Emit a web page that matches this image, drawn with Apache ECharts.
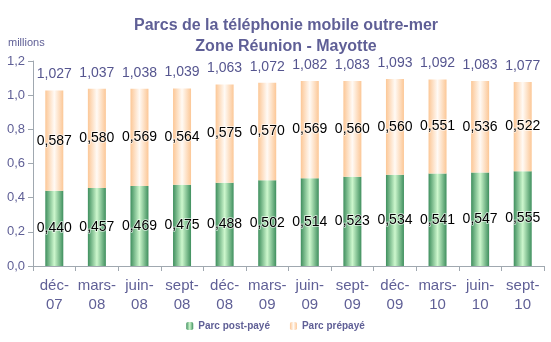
<!DOCTYPE html>
<html><head><meta charset="utf-8">
<script src="https://cdn.jsdelivr.net/npm/echarts@6/dist/echarts.min.js"></script>
<style>html,body{margin:0;padding:0;background:#fff}#c{width:551px;height:342px}</style>
</head><body><div id="c"></div>
<script>
const categories = ['déc-\n07','mars-\n08','juin-\n08','sept-\n08','déc-\n08','mars-\n09','juin-\n09','sept-\n09','déc-\n09','mars-\n10','juin-\n10','sept-\n10'];
const postPaye = [0.440,0.457,0.469,0.475,0.488,0.502,0.514,0.523,0.534,0.541,0.547,0.555];
const prePaye = [0.587,0.580,0.569,0.564,0.575,0.570,0.569,0.560,0.560,0.551,0.536,0.522];
const totals = [1.027,1.037,1.038,1.039,1.063,1.072,1.082,1.083,1.093,1.092,1.083,1.077];
const yTicks = [0,0.2,0.4,0.6,0.8,1.0,1.2];

const fmt = v => v.toFixed(3).replace('.', ',');
const txt = '#5f5f96';
const chart = echarts.init(document.getElementById('c'));
const greenGrad = new echarts.graphic.LinearGradient(0,0,1,0,[
  {offset:0,color:'#3f8f5e'},{offset:0.5,color:'#cdf7cd'},{offset:1,color:'#3f8f5e'}]);
const peachGrad = new echarts.graphic.LinearGradient(0,0,1,0,[
  {offset:0,color:'#fcc796'},{offset:0.5,color:'#fffaf5'},{offset:1,color:'#fcc796'}]);
const innerLabel = {show:true,position:'inside',color:'#000',fontSize:14,fontFamily:'Liberation Sans',
  formatter:p=>fmt(p.value),textBorderColor:'rgba(255,255,255,0.7)',textBorderWidth:1.5};
chart.setOption({
  animation:false,
  title:{text:'Parcs de la téléphonie mobile outre-mer\nZone Réunion - Mayotte',left:281,top:10,textAlign:'center',
    textStyle:{color:txt,fontSize:16,fontWeight:'bold',fontFamily:'Liberation Sans',lineHeight:21}},
  graphic:[{type:'text',left:8,top:37,style:{text:'millions',fill:txt,fontSize:11,fontFamily:'Liberation Sans'}}],
  legend:{bottom:6,left:'center',itemWidth:7,itemHeight:8,itemGap:20,
    textStyle:{color:txt,fontSize:10,fontWeight:'bold',fontFamily:'Liberation Sans'},
    data:['Parc post-payé','Parc prépayé']},
  grid:{left:33,right:7,top:61,bottom:76},
  xAxis:{type:'category',data:categories,
    axisLine:{lineStyle:{color:'#a0a8b0'}},axisTick:{show:true,length:5,lineStyle:{color:'#a0a8b0'}},
    axisLabel:{color:txt,fontSize:15,fontFamily:'Liberation Sans',lineHeight:19,margin:10,interval:0}},
  yAxis:{type:'value',min:0,max:1.2,interval:0.2,splitLine:{show:false},
    axisLine:{show:true,lineStyle:{color:'#a0a8b0'}},axisTick:{show:true,length:5,lineStyle:{color:'#a0a8b0'}},
    axisLabel:{color:txt,fontSize:13,fontFamily:'Liberation Sans',margin:8,formatter:v=>v.toFixed(1).replace('.',',')}},
  series:[
    {name:'Parc post-payé',type:'bar',stack:'a',barWidth:18,data:postPaye,itemStyle:{color:greenGrad},label:innerLabel},
    {name:'Parc prépayé',type:'bar',stack:'a',barWidth:18,data:prePaye,itemStyle:{color:peachGrad},label:innerLabel},
    {name:'total',type:'scatter',data:totals,symbolSize:2,itemStyle:{color:'rgba(255,255,255,0)',opacity:1},silent:true,z:10,
      label:{show:true,position:'top',distance:8,color:'#55558f',opacity:1,fontSize:14,fontFamily:'Liberation Sans',formatter:p=>fmt(p.value)}}
  ]
});
</script></body></html>
